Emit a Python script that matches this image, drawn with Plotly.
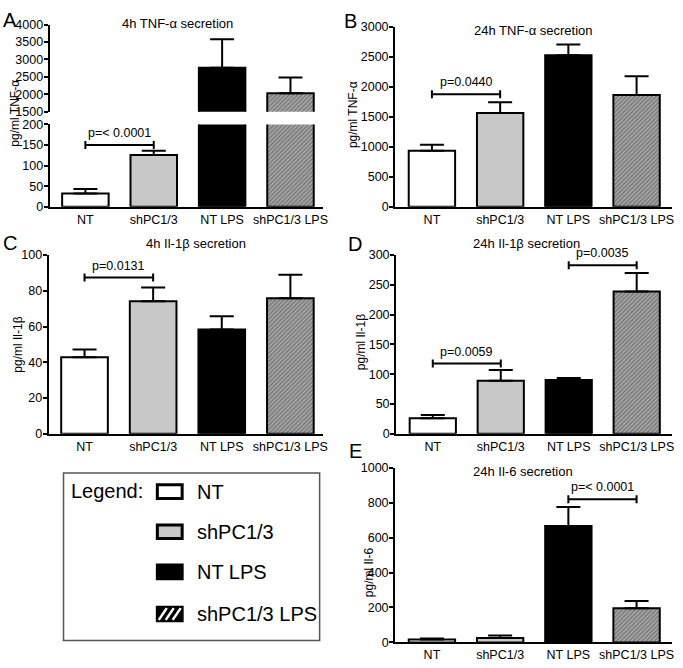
import plotly.graph_objects as go

W, H = 683, 668
FONT = "Liberation Sans, Arial, sans-serif"

categories = ["NT", "shPC1/3", "NT LPS", "shPC1/3 LPS"]
bar_colors = ["#ffffff", "#c8c8c8", "#000000", "#ababab"]
bar_patterns = ["", "", "", "/"]

# Panel A: 4h TNF-alpha (broken axis)
tnf4h_mean = [32, 126, 2764, 2034]
tnf4h_err = [11, 10, 815, 449]
tnf4h_low_ticks = [0, 50, 100, 150, 200]
tnf4h_high_ticks = [1500, 2000, 2500, 3000, 3500, 4000]

# Panel B: 24h TNF-alpha
tnf24h_mean = [934, 1560, 2522, 1859]
tnf24h_err = [98, 180, 179, 314]
tnf24h_ticks = [0, 500, 1000, 1500, 2000, 2500, 3000]

# Panel C: 4h Il-1beta
il1b4h_mean = [42.8, 74.1, 58.4, 75.8]
il1b4h_err = [4.3, 7.7, 7.3, 13.2]
il1b4h_ticks = [0, 20, 40, 60, 80, 100]

# Panel D: 24h Il-1beta
il1b24h_mean = [26.3, 89.2, 90.3, 238.6]
il1b24h_err = [5.4, 17.8, 3.3, 31.2]
il1b24h_ticks = [0, 50, 100, 150, 200, 250, 300]

# Panel E: 24h Il-6
il6_mean = [16, 25, 667, 195]
il6_err = [6, 15, 109, 42]
il6_ticks = [0, 200, 400, 600, 800, 1000]

# significance brackets: (from index, to index, y value, label)
sig_A = [(0, 1, 150, "p=< 0.0001")]
sig_B = [(0, 1, 1875, "p=0.0440")]
sig_C = [(0, 1, 87.4, "p=0.0131")]
sig_D = [(0, 1, 118, "p=0.0059"), (2, 3, 283, "p=0.0035")]
sig_E = [(2, 3, 820, "p=< 0.0001")]

legend_labels = ["NT", "shPC1/3", "NT LPS", "shPC1/3 LPS"]


def fx(p):
    return p / W


def fy(p):
    return 1 - p / H


fig = go.Figure()


def add_bars(mean, err, xa, ya):
    fig.add_trace(go.Bar(
        x=categories, y=mean, xaxis=xa, yaxis=ya, width=0.68,
        marker=dict(color=bar_colors, line=dict(color="black", width=2),
                    pattern=dict(shape=bar_patterns, fgcolor="#222222",
                                 size=3, solidity=0.5)),
        error_y=dict(type="data", array=err, arrayminus=[0] * len(err),
                     symmetric=False, color="black", thickness=2, width=12),
        showlegend=False, hoverinfo="skip"))


add_bars(tnf4h_mean, tnf4h_err, "x", "y")
add_bars(tnf4h_mean, tnf4h_err, "x2", "y2")
add_bars(tnf24h_mean, tnf24h_err, "x3", "y3")
add_bars(il1b4h_mean, il1b4h_err, "x4", "y4")
add_bars(il1b24h_mean, il1b24h_err, "x5", "y5")
add_bars(il6_mean, il6_err, "x6", "y6")

tickfont = dict(family=FONT, size=12.5, color="black")


def xaxis_def(dom, rng, anchor, show=True):
    return dict(domain=[fx(dom[0]), fx(dom[1])], range=rng, anchor=anchor,
                showline=show, linecolor="black", linewidth=2,
                showticklabels=show, ticks="", tickfont=tickfont,
                showgrid=False, zeroline=False, fixedrange=True)


def yaxis_def(dom, rng, tickvals, anchor):
    return dict(domain=[fy(dom[1]), fy(dom[0])], range=rng, anchor=anchor,
                tickvals=tickvals, showline=True, linecolor="black",
                linewidth=2, ticks="outside", ticklen=4, tickwidth=2,
                tickcolor="black", tickfont=tickfont, showgrid=False,
                ticklabelstandoff=-2,
                zeroline=False, fixedrange=True)


rA = [-0.523, 3.47]
rB = [-0.54, 3.52]
layout = dict(
    width=W, height=H, margin=dict(l=0, r=0, t=0, b=0),
    paper_bgcolor="white", plot_bgcolor="white",
    font=dict(family=FONT, color="black"),
    bargap=0.3,
    xaxis=xaxis_def([50, 325], rA, "y"),
    yaxis=yaxis_def([120, 204], [0, 200], tnf4h_low_ticks, "x"),
    xaxis2=xaxis_def([50, 325], rA, "y2", show=False),
    yaxis2=yaxis_def([18, 107], [1500, 4000], tnf4h_high_ticks, "x2"),
    xaxis3=xaxis_def([398, 677], rB, "y3"),
    yaxis3=yaxis_def([20, 204], [0, 3000], tnf24h_ticks, "x3"),
    xaxis4=xaxis_def([49, 325], rA, "y4"),
    yaxis4=yaxis_def([253.3, 436], [0, 100], il1b4h_ticks, "x4"),
    xaxis5=xaxis_def([399, 677], rB, "y5"),
    yaxis5=yaxis_def([253.3, 436], [0, 300], il1b24h_ticks, "x5"),
    xaxis6=xaxis_def([398, 677], rB, "y6"),
    yaxis6=yaxis_def([470.7, 649], [0, 1000], il6_ticks, "x6"),
)
fig.update_layout(**layout)

shapes = []
annotations = []


def add_sig(sigs, xr, yr):
    for i, j, yv, label in sigs:
        shapes.append(dict(type="line", xref=xr, yref=yr, x0=i, x1=j, y0=yv, y1=yv,
                           line=dict(color="black", width=2)))
        for k in (i, j):
            shapes.append(dict(type="line", xref=xr, yref=yr, x0=k, x1=k,
                               ysizemode="pixel", yanchor=yv, y0=-4, y1=4,
                               line=dict(color="black", width=2)))
        annotations.append(dict(x=(i + j) / 2, y=yv, xref=xr, yref=yr, text=label,
                                showarrow=False, yanchor="bottom", yshift=3,
                                font=dict(family=FONT, size=12.5, color="black")))


add_sig(sig_A, "x", "y")
add_sig(sig_B, "x3", "y3")
add_sig(sig_C, "x4", "y4")
add_sig(sig_D, "x5", "y5")
add_sig(sig_E, "x6", "y6")


def text(x, y, s, size=13, angle=0, xanchor="center"):
    annotations.append(dict(x=fx(x), y=fy(y), xref="paper", yref="paper", text=s,
                            showarrow=False, textangle=angle, xanchor=xanchor,
                            yanchor="middle",
                            font=dict(family=FONT, size=size, color="black")))


# panel titles
text(179, 17, "4h TNF-α secretion")
text(537, 24, "24h TNF-α secretion")
text(197, 242, "4h Il-1β secretion")
text(530, 242, "24h Il-1β secretion")
text(527, 474, "24h Il-6 secretion")

# y-axis titles
text(15, 108, "pg/ml TNF-α", size=12, angle=-90)
text(355, 110, "pg/ml TNF-α", size=12, angle=-90)
text(18, 345, "pg/ml Il-1β", size=12, angle=-90)
text(363, 342, "pg/ml Il-1β", size=12, angle=-90)
text(372, 577, "pg/ml Il-6", size=12, angle=-90)

# panel letters
text(10, 13, "A", size=20)
text(353, 14, "B", size=20)
text(10, 241, "C", size=20)
text(358, 242, "D", size=20)
text(358, 454, "E", size=20)

# legend box
shapes.append(dict(type="rect", xref="paper", yref="paper", x0=fx(64), x1=fx(322),
                   y0=fy(647), y1=fy(476), line=dict(color="#555555", width=1.5),
                   fillcolor="rgba(0,0,0,0)"))
text(70, 494, "Legend:", size=20, xanchor="left")
rows_y = [495, 536, 577, 620]
sw_fill = ["#ffffff", "#c8c8c8", "#000000", "#000000"]
for k, (lab, cy) in enumerate(zip(legend_labels, rows_y)):
    shapes.append(dict(type="rect", xref="paper", yref="paper",
                       x0=fx(158.5), x1=fx(183.5), y0=fy(cy + 7), y1=fy(cy - 7),
                       fillcolor=sw_fill[k], line=dict(color="black", width=3)))
    text(196, cy, lab, size=20, xanchor="left")
    if bar_patterns[k] == "/":
        for sx in (160, 167, 174):
            shapes.append(dict(type="line", xref="paper", yref="paper",
                               x0=fx(sx), x1=fx(sx + 8), y0=fy(cy + 6), y1=fy(cy - 6),
                               line=dict(color="white", width=2.5)))

fig.update_layout(shapes=shapes, annotations=annotations)
fig.write_html("out.html", config={"displayModeBar": False},
               post_script="document.body.style.margin='0';document.body.style.overflow='hidden';")
